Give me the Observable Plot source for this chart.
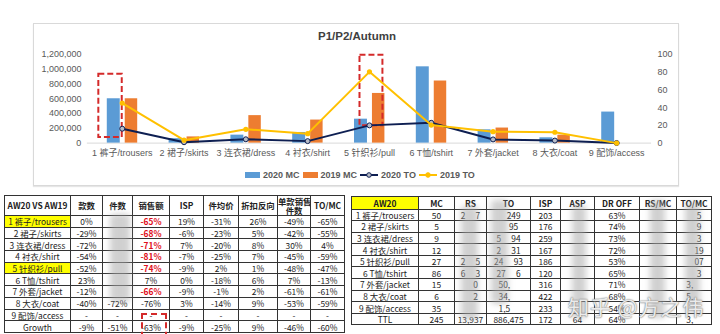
<!DOCTYPE html>
<html><head><meta charset="utf-8">
<script src="https://cdn.jsdelivr.net/npm/d3@7"></script>
<script src="https://cdn.jsdelivr.net/npm/@observablehq/plot@0.6"></script>
<style>
body{margin:0;background:#fff;}
#root{position:relative;width:720px;height:334px;overflow:hidden;background:#fff;font-family:"Liberation Sans",Arial,"Noto Sans CJK SC",sans-serif;}
#chartbox{position:absolute;left:33px;top:23px;width:644px;height:161px;border:1px solid #d9d9d9;box-shadow:0 1px 1px #e6e6e6;}
#plotwrap{position:absolute;left:0;top:0;}
#title{position:absolute;left:0;width:646px;top:6px;text-align:center;font-weight:bold;font-size:11.5px;color:#404040;}
#legend{position:absolute;left:211px;top:146px;display:flex;align-items:center;font-size:9px;font-weight:bold;color:#595959;white-space:nowrap;}
#legend .it{display:flex;align-items:center;margin-right:3px;}
#legend .sw{width:15px;height:6px;margin-right:3px;}
#legend svg{margin-right:3px;}
table{position:absolute;border-collapse:collapse;table-layout:fixed;font-family:"Noto Sans CJK SC","Liberation Sans",sans-serif;font-size:8.4px;color:#222;}
td{border:1px solid #333;padding:0;text-align:center;white-space:nowrap;overflow:hidden;line-height:10px;}
.yel{background:#ffff00;}
.red{color:#e0101a;font-weight:bold;}
th{border:1px solid #333;padding:0;font-weight:bold;text-align:center;line-height:8.5px;white-space:nowrap;overflow:hidden;}
.blob{position:absolute;background:rgba(170,170,170,0.55);filter:blur(3px);border-radius:4px;}
#wm{position:absolute;left:568px;top:291px;font-size:21px;color:rgba(255,255,255,0.85);text-shadow:0 0 2px #888,0 0 1px #666;font-family:"Noto Sans CJK SC",sans-serif;white-space:nowrap;letter-spacing:1px;}
#redbox{position:absolute;left:141px;top:313px;width:22px;height:30px;border:2px dashed #d42a2a;}
</style></head>
<body>
<div id="root">
  <div id="chartbox">
    <div id="plotwrap"></div>
    <div id="title">P1/P2/Autumn</div>
    <div id="legend"></div>
  </div>
  <table id="tleft"></table>
  <table id="tright"></table>
  <div id="blobs"></div>
  <div id="redbox"></div>
  <div id="wm">知乎 @方之伟</div>
</div>
<script>
// ---------- chart data ----------
const categories = ["1 裤子/trousers","2 裙子/skirts","3 连衣裙/dress","4 衬衣/shirt","5 针织衫/pull","6 T恤/tshirt","7 外套/jacket","8 大衣/coat","9 配饰/access"];
const mc2020 = [50, 5, 9, 12, 27, 86, 15, 6, 35];
const mc2019 = [50, 7, 31, 26, 56, 70, 17, 9, 0];
const to2020 = [195000, 12000, 52000, 27000, 240000, 275000, 50000, 34500, 1500];
const to2019 = [541000, 40000, 187000, 128000, 964000, 244000, 155000, 147000, 0];
const leftTicks = [0, 200000, 400000, 600000, 800000, 1000000, 1200000];
const rightTicks = [0, 20, 40, 60, 80, 100];
// highlighted categories (red dashed boxes), in TO units
const highlightA = [{cat: "1 裤子/trousers", from: 75000, to: 933000}];
const highlightB = [{cat: "5 针织衫/pull", from: 235000, to: 1187000}];

// ---------- table data ----------
const leftHeader = ["AW20 VS AW19","款数","件数","销售额","ISP","件均价","折扣反向","单款销售<br>件数","TO/MC"];
const leftRowLabels = [...categories, "Growth"];
const colKuanshu = ["0%","-29%","-72%","-54%","-52%","23%","-12%","-40%","-","-9%"];
const colJianshu = ["","","","","","","","-72%","-","-51%"];
const colSales = ["-65%","-68%","-71%","-81%","-74%","7%","-66%","-76%","-","-63%"];
const colISP = ["19%","-6%","7%","-7%","-9%","0%","-9%","3%","-","-9%"];
const colAvgPrice = ["-31%","-23%","-20%","-25%","2%","-18%","-1%","-14%","-","-25%"];
const colDiscount = ["26%","5%","8%","7%","1%","6%","2%","9%","-","9%"];
const colPerStyle = ["-49%","-42%","30%","-45%","-48%","7%","-61%","-53%","-","-46%"];
const colTOMC = ["-65%","-55%","4%","-59%","-47%","-13%","-61%","-59%","-","-60%"];
const redSales = [true,true,true,true,true,false,true,false,false,false];
const yellowRows = [0, 4];

const rightHeader = ["AW20","MC","RS","TO","ISP","ASP","DR OFF","RS/MC","TO/MC"];
const rightRowLabels = [...categories, "TTL"];
const rMC = ["50","5","9","12","27","86","15","6","35","245"];
const rRS = ["2\u2003 7","","","","2\u2003 5","6\u2003 3","\u2003 0","\u2003 2","","13,937"];
const rTO = ["\u2003 249","\u2003 95","5\u2003 94","2\u2003 31","24\u2003 93","27\u2003 6","50,\u2003","34,\u2003","1,5\u2003","886,475"];
const rISP = ["203","176","259","167","186","120","316","422","233","172"];
const rASP = ["","","","","","","","","","64"];
const rDR = ["63%","74%","73%","72%","53%","65%","71%","68%","54%","64%"];
const rRSMC = ["","","","","","","","","",""];
const rTOMC = ["\u2003 5","\u2003 9","\u2003 3","\u2003 19","\u2003 07","\u2003 3","3,\u2003","5,\u2003","","3,\u2003"];

// ---------- chart ----------
const scaleK = 12000; // 100 MC on right axis == 1,200,000 TO on left axis
const data = categories.map((c, i) => ({cat: c, mc20: mc2020[i], mc19: mc2019[i], to20: to2020[i], to19: to2019[i]}));
const blue = "#5B9BD5", orange = "#ED7D31", navy = "#0e1f52", gold = "#FFC000", red = "#d42a2a";

const chart = Plot.plot({
  width: 646, height: 163,
  marginLeft: 53, marginRight: 27, marginTop: 30, marginBottom: 44,
  style: {fontFamily: '"Liberation Sans", Arial, "Noto Sans CJK SC", sans-serif', fontSize: "9px", color: "#595959", background: "transparent", overflow: "visible"},
  x: {domain: categories, padding: 0},
  y: {domain: [0, 1200000]},
  marks: [
    Plot.axisX({tickSize: 0, tickPadding: 7, label: null}),
    Plot.axisY({ticks: leftTicks, tickSize: 0, tickPadding: 6, tickFormat: d3.format(","), label: null}),
    Plot.axisY({anchor: "right", ticks: rightTicks.map(v => v * scaleK), tickSize: 0, tickPadding: 6, tickFormat: d => String(Math.round(d / scaleK)), label: null}),
    Plot.ruleY([0], {stroke: "#d9d9d9", strokeWidth: 1}),
    Plot.barY(data, {x: "cat", y: d => d.mc20 * scaleK, fill: blue, insetLeft: 16, insetRight: 33}),
    Plot.barY(data, {x: "cat", y: d => d.mc19 * scaleK, fill: orange, insetLeft: 34, insetRight: 15.5}),
    Plot.barY(highlightA, {x: "cat", y1: "from", y2: "to", fill: "none", stroke: red, strokeWidth: 2, strokeDasharray: "6,3", insetLeft: 7.5, insetRight: 31}),
    Plot.barY(highlightB, {x: "cat", y1: "from", y2: "to", fill: "none", stroke: red, strokeWidth: 2, strokeDasharray: "6,3", insetLeft: 21.5, insetRight: 17.5}),
    Plot.line(data, {x: "cat", y: "to20", stroke: navy, strokeWidth: 2}),
    Plot.dot(data, {x: "cat", y: "to20", r: 2.5, fill: "#b8bcc6", stroke: navy, strokeWidth: 1}),
    Plot.line(data, {x: "cat", y: "to19", stroke: gold, strokeWidth: 2}),
    Plot.dot(data, {x: "cat", y: "to19", r: 2.6, fill: gold})
  ]
});
document.getElementById("plotwrap").appendChild(chart);

// legend
const legendItems = [
  {label: "2020 MC", type: "bar", color: blue},
  {label: "2019 MC", type: "bar", color: orange},
  {label: "2020 TO", type: "line", color: navy, dot: "#b8bcc6"},
  {label: "2019 TO", type: "line", color: gold, dot: gold}
];
const leg = document.getElementById("legend");
for (const it of legendItems) {
  const s = document.createElement("div"); s.className = "it";
  if (it.type === "bar") s.innerHTML = `<div class="sw" style="background:${it.color}"></div>${it.label}`;
  else s.innerHTML = `<svg width="18" height="8"><line x1="0" x2="18" y1="4" y2="4" stroke="${it.color}" stroke-width="2"/><circle cx="9" cy="4" r="2.3" fill="${it.dot}" stroke="${it.color}" stroke-width="1"/></svg>${it.label}`;
  leg.appendChild(s);
}

// ---------- tables ----------
function buildTable(el, left, top, widths, header, headerH, rowH, cols, opts) {
  el.style.left = left + "px"; el.style.top = top + "px";
  el.style.width = widths.reduce((a, b) => a + b, 0) + "px";
  let h = "<colgroup>" + widths.map(w => `<col style="width:${w}px">`).join("") + "</colgroup>";
  h += `<tr style="height:${headerH}px">` + header.map((t, j) => `<th class="${opts.headCls(j)}">${t}</th>`).join("") + "</tr>";
  const n = cols[0].length;
  for (let i = 0; i < n; i++) {
    h += `<tr style="height:${rowH}px">` + cols.map((c, j) => `<td class="${opts.cellCls(i, j)}">${c[i]}</td>`).join("") + "</tr>";
  }
  el.innerHTML = h;
}
buildTable(document.getElementById("tleft"), 4, 195, [66, 32, 30, 37, 34, 35, 39, 33, 34], leftHeader, 20, 11.7,
  [leftRowLabels, colKuanshu, colJianshu, colSales, colISP, colAvgPrice, colDiscount, colPerStyle, colTOMC],
  {headCls: j => "", cellCls: (i, j) => (j === 0 && yellowRows.includes(i)) ? "yel" : (j === 3 && redSales[i]) ? "red" : ""});
buildTable(document.getElementById("tright"), 351, 196, [67, 36, 32, 44, 30, 34, 45, 37, 35], rightHeader, 12.5, 11.6,
  [rightRowLabels, rMC, rRS, rTO, rISP, rASP, rDR, rRSMC, rTOMC],
  {headCls: j => j === 0 ? "yel" : "", cellCls: (i, j) => ""});

// blurred (masked) areas of the source image
const blobs = [[110, 214, 20, 88], [461, 206, 17, 114], [491, 200, 17, 104], [572, 205, 14, 114], [650, 200, 15, 118], [685, 203, 15, 110]];
const bl = document.getElementById("blobs");
for (const [x, y, w, hh] of blobs) {
  const d = document.createElement("div"); d.className = "blob";
  Object.assign(d.style, {left: x + "px", top: y + "px", width: w + "px", height: hh + "px"});
  bl.appendChild(d);
}
</script>
</body></html>
